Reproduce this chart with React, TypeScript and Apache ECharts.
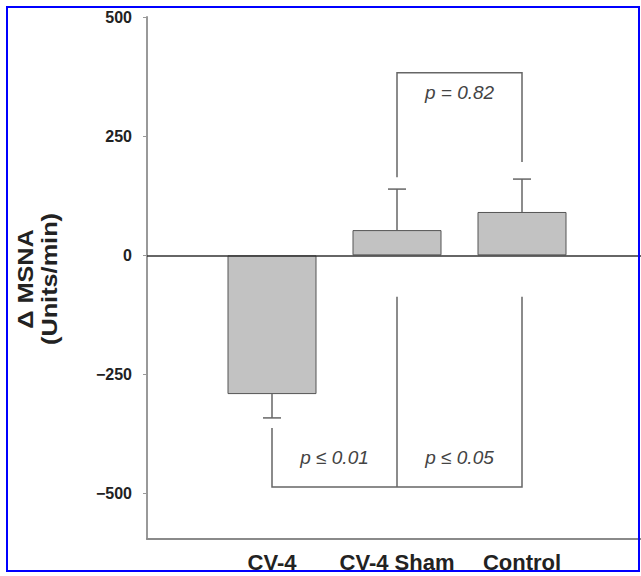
import React, { useEffect, useRef } from "react";
import * as echarts from "echarts";

const categories = ["CV-4", "CV-4 Sham", "Control"];
const categoryX = [1, 2, 3];
const means = [-291, 53, 91];
const sems = [50, 86, 69];
const yTicks = [500, 250, 0, -250, -500];

// significance brackets (data coordinates)
const bracketLines: number[][][] = [
  [[2, 164], [2, 383], [3, 383], [3, 196]],
  [[1, -362], [1, -486], [3, -486], [3, -87]],
  [[2, -87], [2, -486]],
];
const pLabels = ["p = 0.82", "p \u2264 0.01", "p \u2264 0.05"];
const pLabelX = [2.5, 1.5, 2.5];
const pLabelY = [341, -423, -423];

const FONT = '"Liberation Sans", Arial, Helvetica, sans-serif';

export default function App() {
  const ref = useRef<HTMLDivElement>(null);
  useEffect(() => {
    if (!ref.current) return;
    const chart = echarts.init(ref.current, null, { renderer: "svg" });
    const option: any = {
      animation: false,
      backgroundColor: "#ffffff",
      grid: { left: 147, right: 0, top: 17, bottom: 37 },
      xAxis: {
        type: "value",
        min: 0,
        max: 3.952,
        axisLine: { show: true, onZero: false, lineStyle: { color: "#8a8a8a", width: 2 } },
        axisTick: { show: false },
        splitLine: { show: false },
        axisLabel: {
          customValues: categoryX,
          formatter: (v: number) => categories[Math.round(v) - 1] ?? "",
          fontSize: 22,
          fontWeight: "bold",
          fontFamily: FONT,
          color: "#222",
          margin: 12,
        },
      },
      yAxis: {
        type: "value",
        min: -595,
        max: 500,
        axisLine: { show: true, onZero: false, lineStyle: { color: "#999", width: 2 } },
        axisTick: { show: true, customValues: yTicks, length: 4, lineStyle: { color: "#999" } },
        splitLine: { show: false },
        axisLabel: {
          customValues: yTicks,
          formatter: (v: number) => (v < 0 ? "\u2212" + Math.abs(v) : String(v)),
          fontSize: 16,
          fontWeight: "bold",
          fontFamily: FONT,
          color: "#222",
          margin: 15,
        },
      },
      graphic: [
        {
          type: "text",
          x: 38,
          y: 279,
          rotation: Math.PI / 2,
          scaleX: 1.15,
          style: {
            text: "\u0394 MSNA\n(Units/min)",
            font: `bold 22px ${FONT}`,
            fill: "#222",
            align: "center",
            verticalAlign: "middle",
            lineHeight: 24,
          },
        },
        {
          type: "rect",
          shape: { x: 7, y: 7, width: 632, height: 564 },
          style: { fill: "none", stroke: "#0000ff", lineWidth: 2 },
          z: 100,
        },
      ],
      series: [
        {
          type: "bar",
          data: means.map((m, i) => [categoryX[i], m]),
          barWidth: 89,
          itemStyle: { color: "#c2c2c2", borderColor: "#555", borderWidth: 1 },
          markLine: {
            silent: true,
            symbol: "none",
            label: { show: false },
            lineStyle: { color: "#333", width: 1.5, type: "solid" },
            data: [{ yAxis: 0 }],
          },
        },
        {
          type: "custom",
          data: means.map((m, i) => [categoryX[i], m, sems[i]]),
          renderItem: (params: any, api: any) => {
            const x = api.value(0);
            const m = api.value(1);
            const e = api.value(2);
            const end = m + (m < 0 ? -e : e);
            const p0 = api.coord([x, m]);
            const p1 = api.coord([x, end]);
            const style = { stroke: "#666", lineWidth: 1.5 };
            return {
              type: "group",
              children: [
                { type: "line", shape: { x1: p0[0], y1: p0[1], x2: p1[0], y2: p1[1] }, style },
                { type: "line", shape: { x1: p1[0] - 9, y1: p1[1], x2: p1[0] + 9, y2: p1[1] }, style },
              ],
            };
          },
          z: 3,
        },
        {
          type: "custom",
          data: bracketLines.map((pts) => pts[0]),
          renderItem: (params: any, api: any) => {
            const pts = bracketLines[params.dataIndex].map((p) => api.coord(p));
            return {
              type: "polyline",
              shape: { points: pts },
              style: { stroke: "#666", lineWidth: 1.5, fill: "none" },
            };
          },
          z: 3,
        },
        {
          type: "custom",
          data: pLabels.map((_, i) => [pLabelX[i], pLabelY[i]]),
          renderItem: (params: any, api: any) => {
            const p = api.coord([api.value(0), api.value(1)]);
            return {
              type: "text",
              x: p[0],
              y: p[1],
              style: {
                text: pLabels[params.dataIndex],
                font: `italic 19px ${FONT}`,
                fill: "#444",
                align: "center",
                verticalAlign: "middle",
              },
            };
          },
          z: 4,
        },
      ],
    };
    chart.setOption(option);
    return () => chart.dispose();
  }, []);
  return (
    <div
      ref={ref}
      style={{ position: "fixed", left: 0, top: 0, width: 641, height: 576, background: "#fff" }}
    />
  );
}
